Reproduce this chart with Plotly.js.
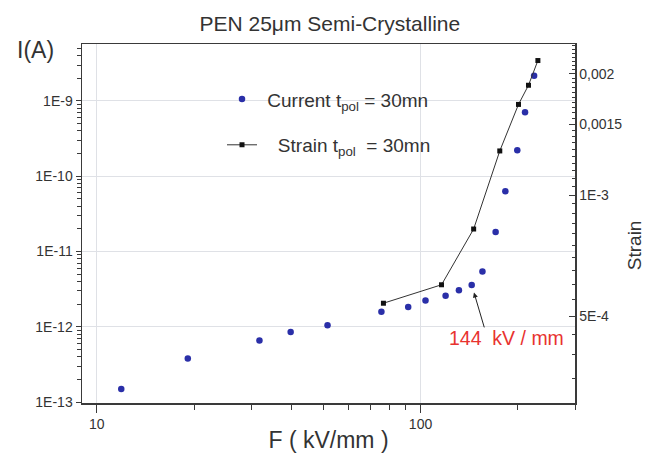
<!DOCTYPE html>
<html>
<head>
<meta charset="utf-8">
<script src="https://cdn.plot.ly/plotly-3.0.1.min.js"></script>
<style>html,body{margin:0;padding:0;background:#fff;}#chart{width:648px;height:463px;}</style>
</head>
<body>
<div id="chart"></div>
<script>
// Data
const fieldCurrent = [11.9, 19.1, 31.8, 39.7, 51.6, 75.7, 91.6, 103.6, 119.5, 131.4, 143.9, 155.3, 170.6, 182.8, 199, 210.3, 224.3];
const current = [1.49e-13, 3.78e-13, 6.56e-13, 8.5e-13, 1.05e-12, 1.58e-12, 1.83e-12, 2.24e-12, 2.59e-12, 3.05e-12, 3.6e-12, 5.41e-12, 1.81e-11, 6.31e-11, 2.22e-10, 7.07e-10, 2.17e-9];
const fieldStrain = [76.8, 116.1, 145.9, 175.7, 200.7, 215.5, 230.4];
const strain = [5.38e-4, 5.98e-4, 8.23e-4, 1.287e-3, 1.68e-3, 1.875e-3, 2.16e-3];

const xTickVals = [10, 100];
const xTickText = ['10', '100'];
const yTickVals = [1e-13, 1e-12, 1e-11, 1e-10, 1e-9];
const yTickText = ['1E-13', '1E-12', '1E-11', '1E-10', '1E-9'];
const y2TickVals = [5e-4, 1e-3, 1.5e-3, 2e-3];
const y2TickText = ['5E-4', '1E-3', '0,0015', '0,002'];
const thresholdIndex = 10; // 144 kV/mm point

// minor tick positions (axis configuration)
const xMinor = [];
for (let d = 1; d <= 100; d *= 10) for (let k = 2; k <= 9; k++) { const v = k * d; if (v > 9 && v <= 300 && v !== 10 && v !== 100) xMinor.push(v); }
const yMinor = [];
for (let e = -14; e <= -8; e++) for (let k = 2; k <= 9; k++) yMinor.push(k * Math.pow(10, e));
const y2Minor = [];
for (let k = 6; k <= 50; k++) y2Minor.push(k * 5e-5);

const font = 'Liberation Sans, Arial, sans-serif';
const axisColor = '#3a3a3a';
const textColor = '#333';

const traces = [
  {
    x: fieldCurrent, y: current, type: 'scatter', mode: 'markers',
    name: '\u00a0Current t<sub>pol</sub> = 30mn',
    marker: {color: '#2a2fa8', size: 6.5},
    legendgroup: 'a'
  },
  {
    x: fieldStrain, y: strain, type: 'scatter', mode: 'lines+markers', yaxis: 'y2',
    name: '\u00a0\u00a0\u00a0Strain t<sub>pol</sub>\u00a0\u00a0= 30mn',
    line: {color: '#333', width: 1},
    marker: {symbol: 'square', color: '#111', size: 5},
    legendgroup: 'b'
  }
];

const layout = {
  width: 648, height: 463,
  margin: {l: 82, r: 73, t: 44, b: 60},
  paper_bgcolor: '#fff', plot_bgcolor: '#fff',
  font: {family: font, color: textColor, size: 14},
  title: {text: 'PEN 25\u03bcm Semi-Crystalline', x: 0.509, xanchor: 'center', y: 0.949, yanchor: 'middle', font: {size: 21, color: textColor}},
  showlegend: true,
  legend: {x: 0.284, y: 0.899, xanchor: 'left', yanchor: 'top', bgcolor: 'rgba(0,0,0,0)', font: {size: 19, color: textColor}, tracegroupgap: 18, traceorder: 'grouped'},
  xaxis: {
    type: 'log', range: [Math.log10(9), Math.log10(300)],
    tickmode: 'array', tickvals: xTickVals, ticktext: xTickText,
    ticks: 'outside', ticklen: 8, tickcolor: axisColor, tickwidth: 1,
    showline: true, linecolor: axisColor, linewidth: 1.5, mirror: true,
    showgrid: true, gridcolor: '#dfe1e6', gridwidth: 1, zeroline: false,
    tickfont: {size: 14, color: textColor},
    minor: {tickmode: 'array', tickvals: xMinor, ticks: 'outside', ticklen: 5, tickcolor: axisColor, showgrid: false},
    title: {text: 'F ( kV/mm )', font: {size: 23, color: textColor}, standoff: 0}
  },
  yaxis: {
    type: 'log', range: [-13.013, -8.243],
    tickmode: 'array', tickvals: yTickVals, ticktext: yTickText,
    ticks: 'outside', ticklen: 5, tickcolor: axisColor, tickwidth: 1,
    showline: true, linecolor: axisColor, linewidth: 1.5,
    showgrid: true, gridcolor: '#dfe1e6', gridwidth: 1, zeroline: false,
    tickfont: {size: 14, color: textColor},
    minor: {tickmode: 'array', tickvals: yMinor, ticks: 'outside', ticklen: 4, tickcolor: axisColor, showgrid: false}
  },
  yaxis2: {
    type: 'log', range: [-3.5174, -2.6244], overlaying: 'y', side: 'right',
    tickmode: 'array', tickvals: y2TickVals, ticktext: y2TickText,
    ticks: 'inside', ticklen: 6, tickcolor: axisColor, tickwidth: 1,
    showline: true, linecolor: axisColor, linewidth: 1.5,
    showgrid: false, zeroline: false,
    tickfont: {size: 14, color: textColor},
    minor: {tickmode: 'array', tickvals: y2Minor, ticks: 'inside', ticklen: 3.5, tickcolor: axisColor, showgrid: false}
  },
  annotations: [
    {xref: 'paper', yref: 'paper', x: -0.135, y: 0.983, xanchor: 'left', yanchor: 'middle', text: 'I(A)', showarrow: false, font: {size: 23, color: textColor}},
    {xref: 'paper', yref: 'paper', x: 1.12, y: 0.44, xanchor: 'center', yanchor: 'middle', text: 'Strain', textangle: -90, showarrow: false, font: {size: 19, color: textColor}},
    {xref: 'x', yref: 'y', x: Math.log10(fieldCurrent[thresholdIndex]), y: Math.log10(current[thresholdIndex]), text: '', showarrow: true, ax: 13, ay: 44, standoff: 8, arrowhead: 2, arrowsize: 1, arrowwidth: 1, arrowcolor: '#222'},
    {xref: 'paper', yref: 'paper', x: 0.862, y: 0.18, xanchor: 'center', yanchor: 'middle', text: '144\u00a0\u00a0kV / mm', showarrow: false, font: {size: 19.5, color: '#e8332f'}}
  ]
};

Plotly.newPlot('chart', traces, layout, {displayModeBar: false, staticPlot: true});
</script>
</body>
</html>
